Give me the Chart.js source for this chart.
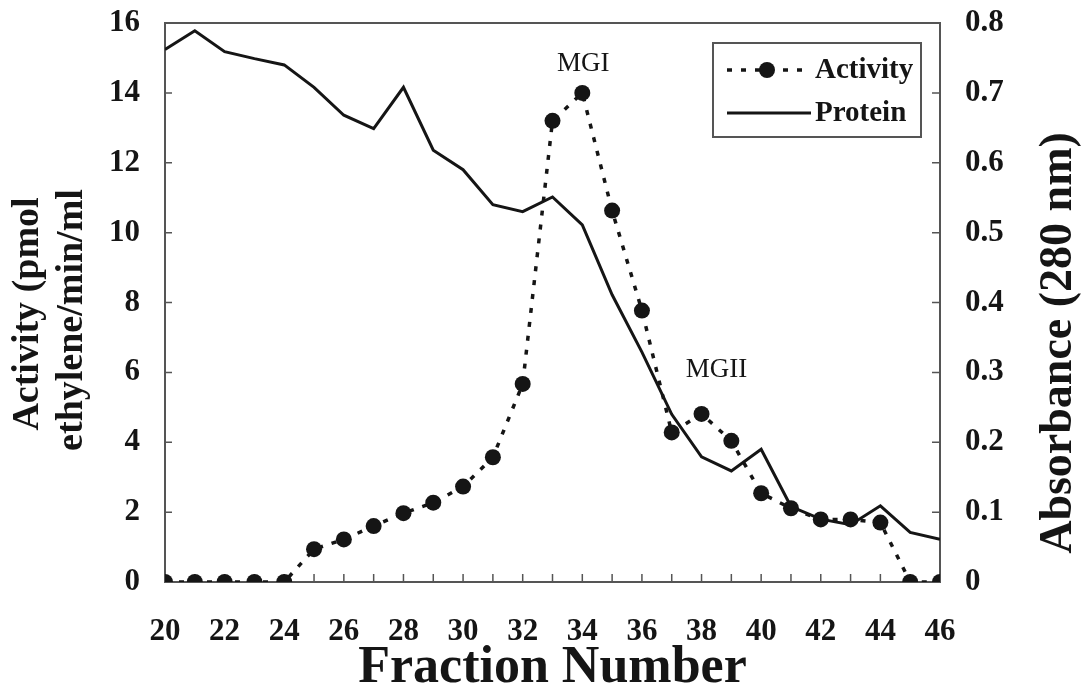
<!DOCTYPE html>
<html>
<head>
<meta charset="utf-8">
<title>Fraction activity and protein</title>
<script src="https://cdn.jsdelivr.net/npm/chart.js@4.4.1/dist/chart.umd.min.js"></script>
<style>
  html, body { margin: 0; padding: 0; background: #fff; }
  #wrap { width: 1081px; height: 690px; position: relative; }
</style>
</head>
<body>
<div id="wrap"><canvas id="elutionChart"></canvas></div>
<script>
// fraction numbers from the column
const fractions = [20, 21, 22, 23, 24, 25, 26, 27, 28, 29, 30, 31, 32, 33,
                   34, 35, 36, 37, 38, 39, 40, 41, 42, 43, 44, 45, 46];

// ACC oxidase activity, pmol ethylene/min/ml
const activity = [0, 0, 0, 0, 0, 0.94, 1.22, 1.6, 1.97, 2.27, 2.73, 3.57, 5.67, 13.2,
                  14.0, 10.63, 7.77, 4.28, 4.81, 4.04, 2.54, 2.11, 1.79, 1.79, 1.7, 0, 0];

// protein, absorbance at 280 nm
const protein = [0.762, 0.789, 0.759, 0.749, 0.74, 0.708, 0.668, 0.649, 0.708, 0.618,
                 0.59, 0.54, 0.53, 0.551, 0.511, 0.411, 0.329, 0.24, 0.179, 0.159,
                 0.19, 0.108, 0.09, 0.082, 0.109, 0.071, 0.061];

// peak names, tied to the fraction they sit over
const peakNames = ['MGI', 'MGII'];
const peakFractions = [34, 38];

const serif = "'Liberation Serif', 'Times New Roman', serif";
const ink = '#151515';
const frame = '#555';

const toPoints = (ys) => ys.map((y, i) => ({ x: fractions[i], y: y }));

// fixed width for a y axis, and no extra room above/below its end labels
const fixWidth = (w) => (scale) => {
  scale.width = w;
  scale.paddingTop = 0;
  scale.paddingBottom = 0;
};

// inward tick marks, top frame line, peak names, legend box and y titles
const decorations = {
  id: 'decorations',
  beforeDatasetsDraw(chart) {
    const { ctx, chartArea: a, scales } = chart;
    ctx.save();
    ctx.strokeStyle = frame;
    ctx.lineWidth = 2;
    ctx.beginPath();
    ctx.moveTo(a.left - 1, a.top);
    ctx.lineTo(a.right + 1, a.top);
    ctx.stroke();

    ctx.lineWidth = 1.5;
    ctx.beginPath();
    for (let f = 21; f < 46; f++) {
      const px = scales.x.getPixelForValue(f);
      ctx.moveTo(px, a.bottom);
      ctx.lineTo(px, a.bottom - 8);
    }
    for (let v = 2; v < 16; v += 2) {
      const py = scales.y.getPixelForValue(v);
      ctx.moveTo(a.left, py);
      ctx.lineTo(a.left + 7, py);
    }
    for (let k = 1; k < 8; k++) {
      const py = scales.y1.getPixelForValue(k / 10);
      ctx.moveTo(a.right, py);
      ctx.lineTo(a.right - 8, py);
    }
    ctx.stroke();
    ctx.restore();
  },
  afterDraw(chart) {
    const { ctx, scales } = chart;
    ctx.save();

    // peak names
    ctx.fillStyle = ink;
    ctx.font = '27px ' + serif;
    ctx.textAlign = 'center';
    ctx.textBaseline = 'middle';
    const offsets = [[1, -29], [15, -44]];
    peakNames.forEach((name, i) => {
      const idx = fractions.indexOf(peakFractions[i]);
      const px = scales.x.getPixelForValue(peakFractions[i]);
      const py = scales.y.getPixelForValue(activity[idx]);
      ctx.fillText(name, px + offsets[i][0], py + offsets[i][1]);
    });

    // legend box
    const box = { left: 713, top: 43, right: 921, bottom: 137 };
    ctx.fillStyle = '#fff';
    ctx.fillRect(box.left, box.top, box.right - box.left, box.bottom - box.top);
    ctx.strokeStyle = frame;
    ctx.lineWidth = 2;
    ctx.strokeRect(box.left, box.top, box.right - box.left, box.bottom - box.top);

    const rows = chart.data.datasets;
    const rowY = [70, 113];
    rows.forEach((ds, i) => {
      const y = rowY[i];
      ctx.strokeStyle = ds.borderColor;
      ctx.lineWidth = ds.borderWidth;
      ctx.setLineDash(ds.borderDash || []);
      ctx.beginPath();
      ctx.moveTo(727, y);
      ctx.lineTo(811, y);
      ctx.stroke();
      ctx.setLineDash([]);
      if (ds.pointRadius > 0) {
        ctx.fillStyle = ds.pointBackgroundColor;
        ctx.beginPath();
        ctx.arc(767, y, ds.pointRadius, 0, Math.PI * 2);
        ctx.fill();
      }
      ctx.fillStyle = ink;
      ctx.font = 'bold 29px ' + serif;
      ctx.textAlign = 'left';
      ctx.textBaseline = 'middle';
      ctx.fillText(ds.label, 815, y + 1);
    });

    // rotated axis titles
    ctx.fillStyle = ink;
    ctx.textAlign = 'center';
    ctx.textBaseline = 'alphabetic';
    ctx.font = 'bold 38px ' + serif;
    ctx.save();
    ctx.translate(38, 314);
    ctx.rotate(-Math.PI / 2);
    ctx.fillText('Activity (pmol', 0, 0);
    ctx.restore();
    ctx.save();
    ctx.translate(82, 320);
    ctx.rotate(-Math.PI / 2);
    ctx.fillText('ethylene/min/ml', 0, 0);
    ctx.restore();

    ctx.font = 'bold 46px ' + serif;
    ctx.save();
    ctx.translate(1071, 343);
    ctx.rotate(-Math.PI / 2);
    ctx.fillText('Absorbance (280 nm)', 0, 0);
    ctx.restore();

    ctx.restore();
  }
};

const tickFont = { family: serif, size: 31, weight: 'bold' };

new Chart(document.getElementById('elutionChart'), {
  type: 'line',
  data: {
    datasets: [
      {
        label: 'Activity',
        data: toPoints(activity),
        yAxisID: 'y',
        borderColor: ink,
        borderWidth: 3.5,
        borderDash: [5, 9],
        pointRadius: 8,
        pointHoverRadius: 8,
        pointBackgroundColor: ink,
        pointBorderWidth: 0,
        tension: 0
      },
      {
        label: 'Protein',
        data: toPoints(protein),
        yAxisID: 'y1',
        borderColor: ink,
        borderWidth: 3,
        pointRadius: 0,
        tension: 0
      }
    ]
  },
  options: {
    responsive: true,
    maintainAspectRatio: false,
    animation: false,
    events: [],
    layout: { padding: { top: 23, left: 0, right: 0, bottom: 0 } },
    plugins: {
      legend: { display: false },
      tooltip: { enabled: false }
    },
    scales: {
      x: {
        type: 'linear',
        min: 20,
        max: 46,
        ticks: { stepSize: 2, font: tickFont, color: ink, padding: 31, maxRotation: 0, autoSkip: false },
        grid: { display: false, drawTicks: false },
        border: { display: true, color: frame, width: 2 },
        title: {
          display: true,
          text: 'Fraction Number',
          color: ink,
          font: { family: serif, size: 52, weight: 'bold', lineHeight: 0.82 },
          padding: { top: 0, bottom: 0 }
        },
        afterFit: (scale) => { scale.height = 108; }
      },
      y: {
        position: 'left',
        min: 0,
        max: 16,
        ticks: { stepSize: 2, font: tickFont, color: ink, padding: 25 },
        grid: { display: false, drawTicks: false },
        border: { display: true, color: frame, width: 2 },
        afterFit: fixWidth(165)
      },
      y1: {
        position: 'right',
        min: 0,
        max: 0.8,
        ticks: {
          stepSize: 0.1,
          font: tickFont,
          color: ink,
          padding: 25,
          callback: (v) => (v === 0 ? '0' : v.toFixed(1))
        },
        grid: { display: false, drawTicks: false },
        border: { display: true, color: frame, width: 2 },
        afterFit: fixWidth(141)
      }
    }
  },
  plugins: [decorations]
});
</script>
</body>
</html>
